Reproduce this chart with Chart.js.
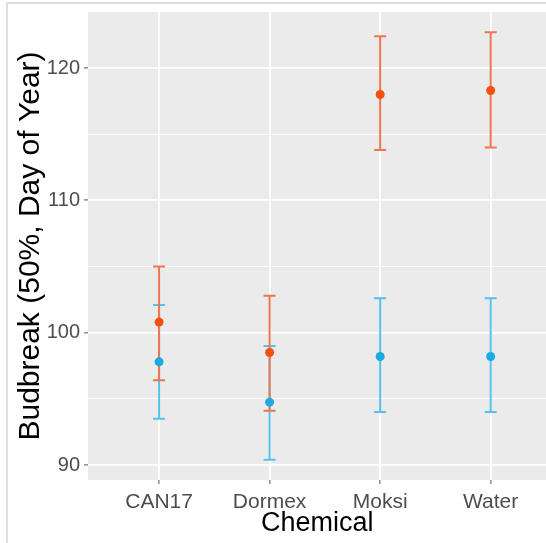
<!DOCTYPE html>
<html>
<head>
<meta charset="utf-8">
<script src="https://cdn.jsdelivr.net/npm/chart.js@4"></script>
<style>
  html, body { margin: 0; padding: 0; background: #fff; overflow: hidden; }
  #wrap { position: relative; width: 546px; height: 543px; overflow: hidden; }
  #frame {
    position: absolute; left: 6px; top: 2px; width: 600px; height: 600px;
    border-left: 2px solid #dedede; border-top: 2px solid #dedede;
  }
  #budbreakChart { position: absolute; left: 0; top: 0; }
</style>
</head>
<body>
<div id="wrap">
  <div id="frame"></div>
  <canvas id="budbreakChart" width="551" height="543"></canvas>
</div>
<script>
// chemicals on the x axis
const categories = ['CAN17', 'Dormex', 'Moksi', 'Water'];

// orange series (mean and error bar limits)
const orangeMean = [100.8, 98.5, 118.0, 118.3];
const orangeLow  = [96.4, 94.1, 113.8, 114.0];
const orangeHigh = [105.0, 102.8, 122.4, 122.7];

// blue series
const blueMean = [97.8, 94.75, 98.2, 98.2];
const blueLow  = [93.5, 90.4, 94.0, 94.0];
const blueHigh = [102.1, 99.0, 102.6, 102.6];

// labelled y ticks
const yTicks = [90, 100, 110, 120];

const ORANGE_PT = '#f5500f';
const ORANGE_BAR = '#ee7550';
const BLUE_PT = '#1caae2';
const BLUE_BAR = '#55c2ec';
const FONT = 'Liberation Sans, Arial, sans-serif';

const toPoints = (arr) => arr.map((v, i) => ({ x: i, y: v }));

// grey ggplot style panel
const panelBg = {
  id: 'panelBg',
  beforeDraw(chart) {
    const { ctx, chartArea: a } = chart;
    ctx.save();
    ctx.fillStyle = '#ebebeb';
    ctx.fillRect(a.left, a.top, a.right - a.left, a.bottom - a.top);
    ctx.restore();
  }
};

// vertical error bars with caps, drawn under the points
const errorBars = {
  id: 'errorBars',
  beforeDatasetsDraw(chart) {
    const { ctx, scales: { x, y }, chartArea: a } = chart;
    const sets = [
      { low: blueLow, high: blueHigh, color: BLUE_BAR },
      { low: orangeLow, high: orangeHigh, color: ORANGE_BAR }
    ];
    ctx.save();
    ctx.beginPath();
    ctx.rect(a.left, a.top, a.right - a.left, a.bottom - a.top);
    ctx.clip();
    ctx.lineWidth = 2;
    sets.forEach(s => {
      ctx.strokeStyle = s.color;
      categories.forEach((_, i) => {
        const px = x.getPixelForValue(i);
        const yl = y.getPixelForValue(s.low[i]);
        const yh = y.getPixelForValue(s.high[i]);
        ctx.beginPath();
        ctx.moveTo(px, yl); ctx.lineTo(px, yh);
        ctx.moveTo(px - 6, yl); ctx.lineTo(px + 6, yl);
        ctx.moveTo(px - 6, yh); ctx.lineTo(px + 6, yh);
        ctx.stroke();
      });
    });
    ctx.restore();
  }
};

const isMajor = (v) => yTicks.includes(v);

// keep the panel edges where the reference has them
const noLabelPadding = (scale) => {
  scale.paddingTop = 0;
  scale.paddingBottom = 0;
  scale.paddingLeft = 0;
  scale.paddingRight = 0;
};

const chart = new Chart(document.getElementById('budbreakChart'), {
  type: 'scatter',
  data: {
    datasets: [
      {
        label: 'orange',
        data: toPoints(orangeMean),
        backgroundColor: ORANGE_PT,
        borderColor: ORANGE_PT,
        pointRadius: 4.5,
        borderWidth: 0
      },
      {
        label: 'blue',
        data: toPoints(blueMean),
        backgroundColor: BLUE_PT,
        borderColor: BLUE_PT,
        pointRadius: 4.5,
        borderWidth: 0
      }
    ]
  },
  options: {
    responsive: false,
    animation: false,
    layout: { padding: { left: 8, top: 12, right: 0, bottom: 0 } },
    plugins: {
      legend: { display: false },
      tooltip: { enabled: false }
    },
    scales: {
      x: {
        type: 'linear',
        min: -0.643,
        max: 3.505,
        afterFit: (scale) => { scale.height = 63; noLabelPadding(scale); },
        border: { display: false },
        grid: {
          color: '#ffffff',
          lineWidth: 1.8,
          tickColor: '#555555',
          tickWidth: 1,
          tickLength: 4
        },
        ticks: {
          stepSize: 1,
          includeBounds: false,
          autoSkip: false,
          maxRotation: 0,
          padding: 6,
          color: '#4d4d4d',
          font: { family: FONT, size: 21 },
          callback: (v) => categories[v] ?? ''
        },
        title: {
          display: true,
          text: 'Chemical',
          color: '#000000',
          padding: { top: 0, bottom: 3 },
          font: { family: FONT, size: 27 }
        }
      },
      y: {
        min: 88.87,
        max: 124.23,
        afterFit: (scale) => { scale.width = 80; noLabelPadding(scale); },
        border: { display: false },
        grid: {
          color: '#ffffff',
          lineWidth: (c) => isMajor(c.tick.value) ? 1.8 : 0.9,
          tickColor: (c) => isMajor(c.tick.value) ? '#555555' : 'rgba(0,0,0,0)',
          tickWidth: 1,
          tickLength: 4
        },
        ticks: {
          stepSize: 5,
          includeBounds: false,
          padding: 4,
          color: '#4d4d4d',
          font: { family: FONT, size: 20 },
          callback: (v) => isMajor(v) ? v : ''
        },
        title: {
          display: true,
          text: 'Budbreak (50%, Day of Year)',
          color: '#000000',
          padding: { top: 5, bottom: 0 },
          font: { family: FONT, size: 30 }
        }
      }
    }
  },
  plugins: [panelBg, errorBars]
});
</script>
</body>
</html>
